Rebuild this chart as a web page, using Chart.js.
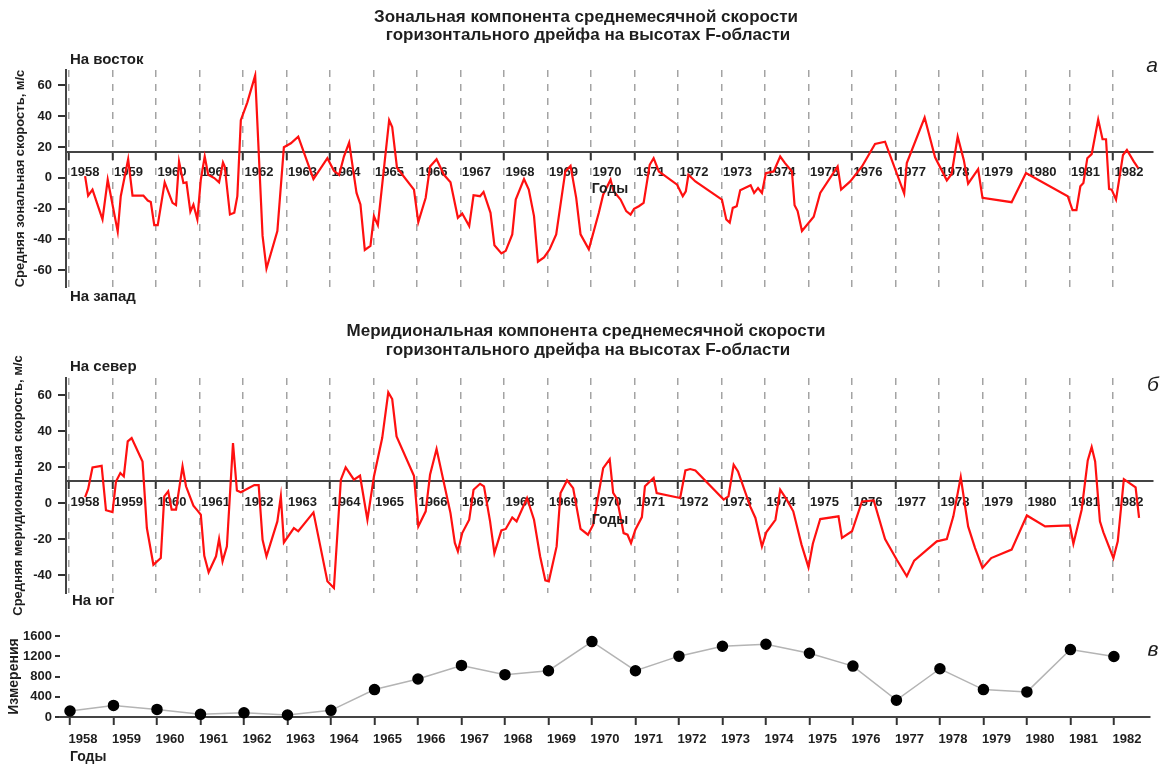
<!DOCTYPE html>
<html lang="ru">
<head>
<meta charset="utf-8">
<title>Горизонтальный дрейф F-области</title>
<script src="https://cdn.jsdelivr.net/npm/chart.js@4.4.1/dist/chart.umd.min.js"></script>
<style>
  html, body { margin: 0; padding: 0; background: #fff; }
  #wrap { position: relative; width: 1164px; height: 765px; }
  #wrap canvas { position: absolute; left: 0; top: 0; }
</style>
</head>
<body>
<div id="wrap">
  <canvas id="zonal" width="1164" height="765"></canvas>
  <canvas id="merid" width="1164" height="765"></canvas>
  <canvas id="counts" width="1164" height="765"></canvas>
</div>
<script>
// tick labels
const years = [1958, 1959, 1960, 1961, 1962, 1963, 1964, 1965, 1966, 1967, 1968, 1969, 1970,
  1971, 1972, 1973, 1974, 1975, 1976, 1977, 1978, 1979, 1980, 1981, 1982];
const speedTicks = [-60, -40, -20, 0, 20, 40, 60];
const countTicks = [0, 400, 800, 1200, 1600];

// zonal component (time in years, speed m/s)
const zonalTime = [1958.37, 1958.44, 1958.54, 1958.77, 1958.89, 1959.12, 1959.19, 1959.36, 1959.46, 1959.71,
  1959.81, 1959.88, 1959.96, 1960.04, 1960.2, 1960.38, 1960.46, 1960.53, 1960.63, 1960.7,
  1960.79, 1960.86, 1960.95, 1961.03, 1961.12, 1961.2, 1961.34, 1961.45, 1961.54, 1961.58,
  1961.7, 1961.8, 1961.87, 1961.95, 1962.1, 1962.28, 1962.45, 1962.54, 1962.79, 1962.94,
  1963.1, 1963.27, 1963.62, 1963.94, 1964.09, 1964.21, 1964.32, 1964.44, 1964.61, 1964.7,
  1964.8, 1964.93, 1965.01, 1965.1, 1965.36, 1965.43, 1965.54, 1965.93, 1966.03, 1966.2,
  1966.3, 1966.45, 1966.62, 1966.77, 1966.94, 1967.04, 1967.2, 1967.3, 1967.45, 1967.53,
  1967.69, 1967.78, 1967.94, 1968.04, 1968.19, 1968.27, 1968.46, 1968.57, 1968.69, 1968.78,
  1968.92, 1969.05, 1969.2, 1969.41, 1969.53, 1969.66, 1969.76, 1969.95, 1970.18, 1970.28,
  1970.45, 1970.52, 1970.68, 1970.81, 1970.91, 1970.99, 1971.1, 1971.21, 1971.35, 1971.44,
  1971.56, 1971.67, 1971.98, 1972.11, 1972.18, 1972.24, 1972.4, 1973.01, 1973.11, 1973.19,
  1973.26, 1973.35, 1973.43, 1973.67, 1973.75, 1973.84, 1973.93, 1974.02, 1974.2, 1974.35,
  1974.46, 1974.62, 1974.68, 1974.75, 1974.85, 1975.12, 1975.27, 1975.67, 1975.75, 1975.96,
  1976.23, 1976.53, 1976.76, 1977.2, 1977.26, 1977.67, 1977.91, 1978.18, 1978.29, 1978.43,
  1978.57, 1978.67, 1978.9, 1979.0, 1979.67, 1980.0, 1980.96, 1981.07, 1981.16, 1981.25,
  1981.32, 1981.41, 1981.51, 1981.66, 1981.76, 1981.84, 1981.91, 1981.97, 1982.07, 1982.23,
  1982.32, 1982.48, 1982.58];
const zonalSpeed = [1, -11.6, -7.7, -27, -1.3, -35, -12, 12, -11.6, -11.6,
  -14.8, -15.7, -30.8, -30.8, -3, -16.3, -17.8, 10.5, -3.4, -3,
  -22, -17.4, -27, -1.3, 13.8, 1.9, -0.2, -3, 9.9, 7.3,
  -23.9, -22.8, -12, 37.4, 49, 66.5, -37.8, -59, -34.6, 19.8,
  22.4, 26.7, -0.9, 12.7, 4.5, 1.9, 13.8, 22.8, -9.9, -17.4,
  -46.9, -44.3, -25, -30.8, 37.4, 33, 6.5, -7.7, -28.8, -13,
  7.3, 12, 1.9, -3, -26, -23.2, -31.4, -11.4, -12, -9.2,
  -22.8, -43.9, -49.2, -47.5, -36.8, -14.2, -0.9, -7.7, -24.9, -54.6,
  -51.8, -46.5, -36.8, 4.1, 7.7, -13.1, -36.8, -46.5, -22.8, -11,
  -1.3, -8.8, -14.2, -21.7, -23.9, -20.2, -18.5, -16.3, 8.4, 12.7,
  4.1, 1.9, -4.5, -12, -8.8, 1.9, -2.4, -14.2, -27.1, -29.2,
  -19.6, -18.5, -8.2, -4.9, -9.9, -6.7, -9.9, 3, 4.1, 13.8,
  9.5, 4.1, -17.8, -21.7, -34.6, -25.4, -9.9, 7.3, -7.7, -2.4,
  7.3, 21.9, 23.4, -10.3, 9.5, 39.1, 13.3, -1.7, 2.4, 26.7,
  11.6, -3.9, 5.6, -13.1, -15.9, 3, -12, -21, -21, -5.6,
  -3.4, 12.7, 15.3, 37.8, 25, 25, -7.3, -7.7, -14.2, 14.8,
  18, 10.5, 6.2];

// meridional component (time in years, speed m/s)
const meridTime = [1958.37, 1958.44, 1958.54, 1958.75, 1958.85, 1959.0, 1959.08, 1959.18, 1959.26, 1959.35,
  1959.44, 1959.69, 1959.79, 1959.94, 1960.11, 1960.19, 1960.28, 1960.36, 1960.46, 1960.61,
  1960.69, 1960.86, 1960.95, 1961.03, 1961.11, 1961.21, 1961.38, 1961.45, 1961.53, 1961.63,
  1961.77, 1961.86, 1961.95, 1962.26, 1962.36, 1962.45, 1962.54, 1962.79, 1962.87, 1962.94,
  1963.17, 1963.27, 1963.62, 1963.94, 1964.09, 1964.25, 1964.36, 1964.55, 1964.69, 1964.86,
  1965.01, 1965.2, 1965.34, 1965.43, 1965.53, 1965.93, 1966.03, 1966.2, 1966.3, 1966.45,
  1966.77, 1966.87, 1966.94, 1967.04, 1967.2, 1967.3, 1967.45, 1967.54, 1967.68, 1967.78,
  1967.94, 1968.04, 1968.19, 1968.29, 1968.53, 1968.69, 1968.83, 1968.95, 1969.03, 1969.21,
  1969.3, 1969.45, 1969.59, 1969.76, 1969.93, 1970.05, 1970.28, 1970.43, 1970.51, 1970.6,
  1970.75, 1970.84, 1970.92, 1971.02, 1971.17, 1971.24, 1971.44, 1971.51, 1972.05, 1972.17,
  1972.28, 1972.4, 1973.05, 1973.16, 1973.28, 1973.38, 1973.66, 1973.78, 1973.93, 1974.03,
  1974.24, 1974.35, 1974.5, 1974.65, 1974.84, 1975.0, 1975.1, 1975.27, 1975.69, 1975.77,
  1976.0, 1976.23, 1976.5, 1976.76, 1977.03, 1977.26, 1977.43, 1977.95, 1978.18, 1978.33,
  1978.5, 1978.67, 1978.83, 1979.0, 1979.2, 1979.67, 1980.02, 1980.44, 1981.01, 1981.09,
  1981.28, 1981.42, 1981.51, 1981.59, 1981.7, 1981.78, 1982.01, 1982.11, 1982.25, 1982.52,
  1982.6];
const meridSpeed = [3.3, 7.8, 19.8, 20.7, -4, -5, 12, 16.7, 14.8, 34.3,
  36.1, 23.1, -13.9, -34.3, -30.6, 3.7, 6.5, -3.7, -3.7, 20.4,
  9.3, -1.5, -4.1, -6.5, -29.3, -38.5, -29.6, -20, -32.4, -24.1,
  33.3, 7, 6, 10, 10, -20.4, -29.6, -10.2, 3.7, -21.9,
  -13.9, -15.7, -5.2, -43.5, -47.2, 13, 19.8, 13, 15.2, -9.3,
  14.8, 36.1, 61.5, 57.8, 37, 15.2, -13, -4.6, 15.7, 30,
  -5.6, -22.2, -26.9, -16.7, -9.3, 7.4, 10.7, 9.3, -10.2, -27.8,
  -15.2, -14.4, -8, -10.2, 2.8, -9.3, -29.6, -43, -43.5, -24.1,
  5.6, 12.6, 8.3, -14.4, -17.6, -12, 19.4, 24.4, 5.6, 2.2,
  -16.7, -17.6, -22.2, -14.8, -7.8, 9.3, 13.9, 5.6, 2.8, 18.1,
  18.9, 18.1, 1.9, 3.7, 21.3, 17.6, -1.9, -8.3, -24.1, -16.3,
  -9.3, 7.4, 1.9, -4.6, -23.1, -35.7, -22.6, -8.9, -7.4, -19.4,
  -15.7, 0.9, 1.5, -20, -31.5, -40.7, -32, -21.3, -20, -7.4,
  14.4, -13, -25, -36.1, -30.6, -25.9, -6.9, -13, -12.4, -22.6,
  -3.7, 23.7, 31.1, 23.1, -10.2, -16.3, -30.6, -21.3, 13.3, 8.7,
  -8.3];

// number of measurements per year
const counts = [118, 229, 150, 52, 85, 39, 131, 542, 751, 1019, 836, 914, 1489,
  914, 1202, 1398, 1437, 1260, 1006, 333, 953, 542, 496, 1332, 1195];

const FONT = '"Liberation Sans", Arial, sans-serif';
const INK = '#1e1e1e';
const tickFont = { family: FONT, size: 13, weight: 'bold' };

function toPoints(xs, ys) {
  return xs.map((x, i) => ({ x: x, y: ys[i] }));
}

// text that sits outside the axes: titles, directions, panel letters
function textPlugin(items) {
  return {
    id: 'extraText',
    afterDraw(chart) {
      const ctx = chart.ctx;
      ctx.save();
      ctx.fillStyle = INK;
      ctx.textBaseline = 'middle';
      items.forEach(it => {
        ctx.font = it.font;
        ctx.textAlign = it.align || 'left';
        ctx.fillText(it.text, it.x, it.y);
      });
      ctx.restore();
    }
  };
}

function yearAxis(min, max, lineValue, opts) {
  return {
    type: 'linear',
    bounds: 'data',
    min: min,
    max: max,
    position: { y: lineValue },
    afterBuildTicks: s => { s.ticks = years.map(v => ({ value: v })); },
    afterFit: s => { s.height = 0; },
    grid: {
      drawOnChartArea: opts.gridOnArea,
      color: '#a3a3a3',
      lineWidth: 1.5,
      tickColor: '#333',
      tickWidth: 2,
      tickLength: 7
    },
    border: { display: true, color: '#444', width: 2, dash: [7, 7] },
    ticks: {
      color: INK,
      font: tickFont,
      padding: opts.padding,
      labelOffset: opts.labelOffset,
      maxRotation: 0,
      autoSkip: false,
      callback: v => String(v)
    }
  };
}

function valueAxis(min, max, tickValues, opts) {
  return {
    type: 'linear',
    bounds: 'data',
    min: min,
    max: max,
    afterBuildTicks: s => {
      s.ticks = tickValues.filter(v => v >= min && v <= max).map(v => ({ value: v }));
    },
    afterFit: s => { s.width = opts.width; },
    grid: { drawOnChartArea: false, color: '#333', lineWidth: 2, tickLength: opts.tickLength },
    border: { display: opts.showLine, color: '#444', width: 2 },
    ticks: { color: INK, font: tickFont, padding: opts.padding, callback: v => String(v) },
    title: {
      display: true,
      text: opts.title,
      color: INK,
      font: { family: FONT, size: opts.titleSize, weight: 'bold' },
      padding: { top: opts.titlePad, bottom: 0 }
    }
  };
}

function baseOptions(padding) {
  return {
    responsive: false,
    animation: false,
    devicePixelRatio: 1,
    events: [],
    layout: { padding: padding },
    plugins: { legend: { display: false }, tooltip: { enabled: false }, title: { display: false } }
  };
}

// а: zonal
new Chart(document.getElementById('zonal'), {
  type: 'line',
  data: {
    datasets: [{
      data: toPoints(zonalTime, zonalSpeed),
      borderColor: '#ff1010',
      borderWidth: 2.2,
      pointRadius: 0,
      tension: 0
    }]
  },
  options: Object.assign(baseOptions({ top: 70, bottom: 478, left: 0, right: 11 }), {
    scales: {
      x: yearAxis(1957.931, 1982.92, 17, { gridOnArea: true, padding: 6, labelOffset: 16 }),
      y: valueAxis(-71, 70, speedTicks, {
        width: 66, tickLength: 8, padding: 6, showLine: true,
        title: 'Средняя зональная скорость, м/с', titleSize: 13, titlePad: 13
      })
    }
  }),
  plugins: [textPlugin([
    { text: 'Зональная компонента среднемесячной скорости', x: 586, y: 17, font: 'bold 17px ' + FONT, align: 'center' },
    { text: 'горизонтального дрейфа на высотах F-области', x: 588, y: 35, font: 'bold 17px ' + FONT, align: 'center' },
    { text: 'На восток', x: 70, y: 60, font: 'bold 15px ' + FONT },
    { text: 'На запад', x: 70, y: 297, font: 'bold 15px ' + FONT },
    { text: 'а', x: 1152, y: 66, font: 'italic 21px ' + FONT, align: 'center' },
    { text: 'Годы', x: 610, y: 189, font: 'bold 14px ' + FONT, align: 'center' }
  ])]
});

// б: meridional
new Chart(document.getElementById('merid'), {
  type: 'line',
  data: {
    datasets: [{
      data: toPoints(meridTime, meridSpeed),
      borderColor: '#ff1010',
      borderWidth: 2.2,
      pointRadius: 0,
      tension: 0
    }]
  },
  options: Object.assign(baseOptions({ top: 378, bottom: 172, left: 0, right: 11 }), {
    scales: {
      x: yearAxis(1957.931, 1982.92, 12, { gridOnArea: true, padding: 6, labelOffset: 16 }),
      y: valueAxis(-50, 69.5, speedTicks, {
        width: 66, tickLength: 8, padding: 6, showLine: true,
        title: 'Средняя меридиональная скорость, м/с', titleSize: 13, titlePad: 11
      })
    }
  }),
  plugins: [textPlugin([
    { text: 'Меридиональная компонента среднемесячной скорости', x: 586, y: 331, font: 'bold 17px ' + FONT, align: 'center' },
    { text: 'горизонтального дрейфа на высотах F-области', x: 588, y: 350, font: 'bold 17px ' + FONT, align: 'center' },
    { text: 'На север', x: 70, y: 367, font: 'bold 15px ' + FONT },
    { text: 'На юг', x: 72, y: 601, font: 'bold 15px ' + FONT },
    { text: 'б', x: 1153, y: 385, font: 'italic 21px ' + FONT, align: 'center' },
    { text: 'Годы', x: 610, y: 520, font: 'bold 14px ' + FONT, align: 'center' }
  ])]
});

// в: measurements
new Chart(document.getElementById('counts'), {
  type: 'line',
  data: {
    datasets: [{
      data: toPoints(years, counts),
      borderColor: '#b4b4b4',
      borderWidth: 1.5,
      pointRadius: 5,
      pointBackgroundColor: '#000',
      pointBorderColor: '#000',
      tension: 0,
      clip: false
    }]
  },
  options: Object.assign(baseOptions({ top: 636, bottom: 48, left: 0, right: 14 }), {
    scales: {
      x: yearAxis(1957.77, 1982.83, 0, { gridOnArea: false, padding: 8, labelOffset: 13 }),
      y: valueAxis(0, 1600, countTicks, {
        width: 60, tickLength: 5, padding: 3, showLine: false,
        title: 'Измерения', titleSize: 14, titlePad: 6
      })
    }
  }),
  plugins: [textPlugin([
    { text: 'в', x: 1153, y: 650, font: 'italic 21px ' + FONT, align: 'center' },
    { text: 'Годы', x: 70, y: 757, font: 'bold 14px ' + FONT }
  ])]
});
</script>
</body>
</html>
